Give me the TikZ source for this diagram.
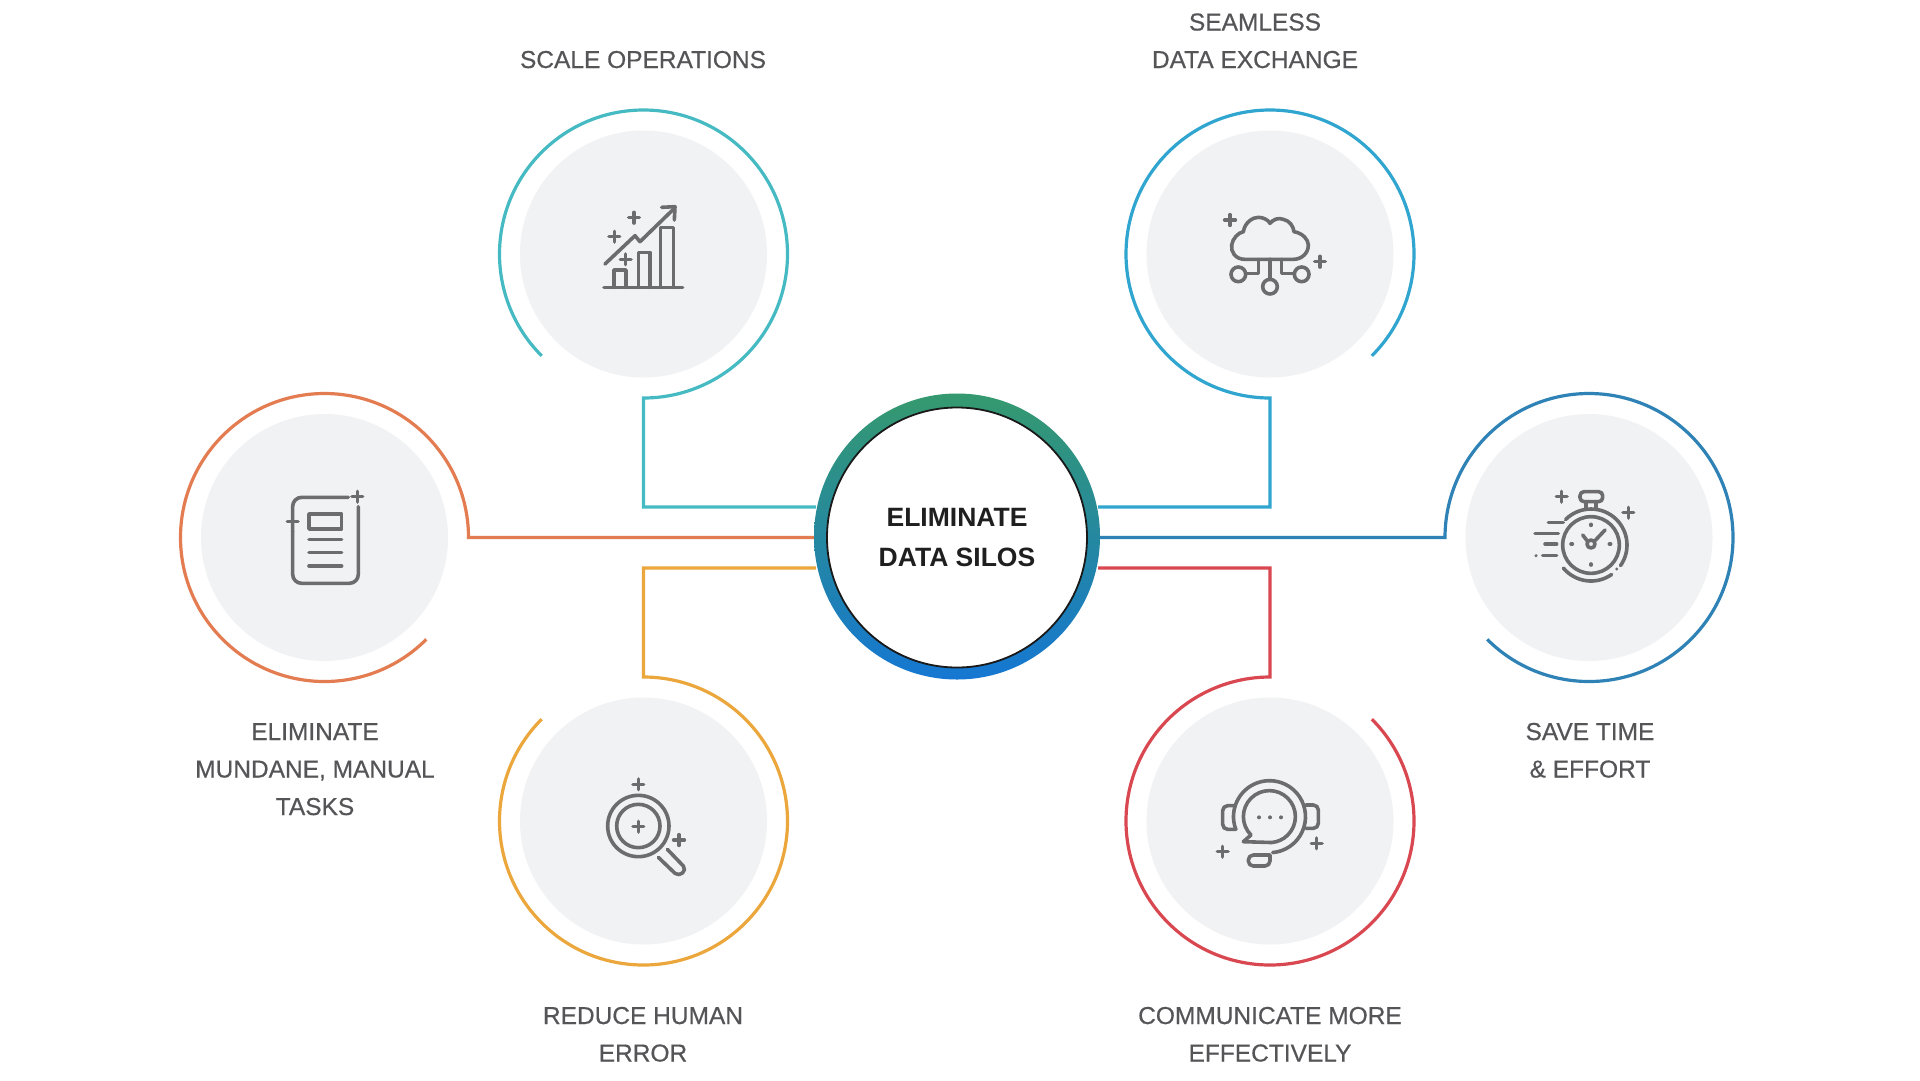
\documentclass[tikz,border=0pt]{standalone}
\usepackage{fontspec}
\setmainfont{Liberation Sans}
\usetikzlibrary{calc}
\definecolor{ctl}{HTML}{45BAC2}
\definecolor{ctr}{HTML}{2FA5CF}
\definecolor{cl}{HTML}{E47C52}
\definecolor{cr}{HTML}{2F82B6}
\definecolor{cbl}{HTML}{EBA63C}
\definecolor{cbr}{HTML}{D94850}
\definecolor{disc}{HTML}{F1F2F4}
\definecolor{ink}{HTML}{6C6C6E}
\definecolor{lab}{HTML}{555558}
\definecolor{HubTop}{HTML}{35996E}
\definecolor{HubBot}{HTML}{1577D2}
\newfontfamily\labfont[FakeBold=0.5]{Liberation Sans}
\tikzset{
  discnode/.style={circle,fill=disc,minimum size=247pt,inner sep=0pt},
  ringline/.style={line width=3.2pt,line join=miter},
  iconline/.style={color=ink,line width=3.6pt,line cap=round,line join=round},
  iconscope/.style={shift={(#1)},scale=1/3,iconline},
  labelnode/.style={align=center,text=lab,inner sep=0pt,anchor=base,font=\labfont\fontsize{24.5}{37.5}\selectfont},
}
\newcommand\plusat[1]{\draw (#1) +(-16,0) -- +(16,0) (#1) +(0,-16) -- +(0,16);}
\begin{document}
\begin{tikzpicture}[x=1pt,y=-1pt]
\useasboundingbox (0,0) rectangle (1920,1080);
\fill[white] (0,0) rectangle (1920,1080);

% hub position
\coordinate (hubc) at (957,536.5);
\node[circle,minimum size=286pt,inner sep=0pt] (hub) at (hubc) {};

% discs
\node[discnode] (tl) at (643.5,254) {};
\node[discnode] (tr) at (1270,254) {};
\node[discnode] (ml) at (324.5,537.5) {};
\node[discnode] (mr) at (1589,537.5) {};
\node[discnode] (bl) at (643.5,821) {};
\node[discnode] (br) at (1270,821) {};

% elbows
\coordinate (tlelbow) at (643.5,507);
\coordinate (trelbow) at (1270,507);
\coordinate (blelbow) at (643.5,568);
\coordinate (brelbow) at (1270,568);

% connectors
\coordinate (tlstart) at ($(tl)+(135:144)$);
\draw[ctl,ringline] (tlstart) arc[start angle=135,end angle=450,radius=144] -- (tlelbow) -- (tlelbow -| hub.170);
\coordinate (trstart) at ($(tr)+(45:144)$);
\draw[ctr,ringline] (trstart) arc[start angle=45,end angle=-270,radius=144] -- (trelbow) -- (trelbow -| hub.10);
\coordinate (mlstart) at ($(ml)+(45:144)$);
\draw[cl,ringline] (mlstart) arc[start angle=45,end angle=360,radius=144] -- (ml.east -| hub.west);
\coordinate (mrstart) at ($(mr)+(135:144)$);
\draw[cr,ringline] (mrstart) arc[start angle=135,end angle=-180,radius=144] -- (mr.west -| hub.east);
\coordinate (blstart) at ($(bl)+(-135:144)$);
\draw[cbl,ringline] (blstart) arc[start angle=-135,end angle=-450,radius=144] -- (blelbow) -- (blelbow -| hub.190);
\coordinate (brstart) at ($(br)+(-45:144)$);
\draw[cbr,ringline] (brstart) arc[start angle=-45,end angle=270,radius=144] -- (brelbow) -- (brelbow -| hub.-10);

% hub
\node[circle,minimum size=286pt,inner sep=0pt,top color=HubTop,bottom color=HubBot] (hubring) at (hubc) {};
\node[circle,minimum size=260pt,inner sep=0pt,fill=white,draw=black!90,line width=1.8pt,align=center,text=black!88,font=\bfseries\fontsize{26.5}{40}\selectfont,yshift=-1pt] (hubin) at (hubc) {ELIMINATE\\DATA SILOS};

% labels (the anchor is the baseline of the last line)
\node[labelnode] (l1) at (643,68) {SCALE OPERATIONS};
\node[labelnode] (l2) at (1255,68) {SEAMLESS\\DATA EXCHANGE};
\node[labelnode] (l3) at (315,815) {ELIMINATE\\MUNDANE, MANUAL\\TASKS};
\node[labelnode] (l4) at (1590,777.5) {SAVE TIME\\\& EFFORT};
\node[labelnode] (l5) at (643,1061.5) {REDUCE HUMAN\\ERROR};
\node[labelnode] (l6) at (1270,1061.5) {COMMUNICATE MORE\\EFFECTIVELY};

% chart icon
\begin{scope}[iconscope={480,90}]
\draw (372,592) -- (608,592);
\draw (402,592) -- (402,540) -- (438,540) -- (438,592);
\draw (475,592) -- (475,487) -- (510,487) -- (510,592);
\draw (542,592) -- (542,413) -- (580,413) -- (580,592);
\draw (375,522) -- (465,437) -- (480,455) -- (580,358);
\draw (545,352) -- (585,350) -- (583,390);
\plusat{462,383}
\plusat{403,440}
\plusat{437,508}
\end{scope}

% cloud icon
\begin{scope}[iconscope={1190,190}]
\draw (165,208) .. controls (135,208) and (122,185) .. (125,165)
 .. controls (128,145) and (145,128) .. (160,125)
 .. controls (165,95) and (190,82) .. (205,82)
 .. controls (220,82) and (235,90) .. (240,100)
 .. controls (250,88) and (265,82) .. (280,88)
 .. controls (300,92) and (310,110) .. (312,125)
 .. controls (340,130) and (355,150) .. (355,165)
 .. controls (355,190) and (335,208) .. (310,208) -- cycle;
\draw (240,208) -- (240,268);
\draw (240,290) circle[radius=22];
\draw (205,208) -- (205,250) -- (168,250);
\draw (145,253) circle[radius=22];
\draw (275,208) -- (275,250) -- (312,250);
\draw (335,253) circle[radius=22];
\plusat{120,90}
\plusat{390,215}
\end{scope}

% document icon
\begin{scope}[iconscope={260,470}]
\draw[rounded corners=9pt] (265,82) -- (98,82) -- (98,185);
\draw[rounded corners=9pt] (98,185) -- (98,340) -- (295,340) -- (295,110);
\draw (147,132) rectangle (245,177);
\draw (147,208) -- (245,208);
\draw (147,247) -- (245,247);
\draw (147,288) -- (245,288);
\plusat{292,80}
\plusat{98,155}
\end{scope}

% stopwatch icon
\begin{scope}[iconscope={1510,470}]
\draw ($(243,225)+(-135:108)$) arc[start angle=-135,end angle=35,radius=108];
\fill[ink] (320,297) circle[radius=5];
\draw ($(243,225)+(55:108)$) arc[start angle=55,end angle=140,radius=108];
\draw (243,225) circle[radius=85];
\draw (218,195) -- (232,213);
\draw (254,213) -- (285,180);
\draw (243,222) circle[radius=12];
\draw (243,163) -- (243,166);
\draw (243,282) -- (243,285);
\draw (183,222) -- (187,222);
\draw (298,222) -- (302,222);
\draw[rounded corners=4pt] (210,65) rectangle (278,95);
\draw (228,95) -- (228,118);
\draw (258,95) -- (258,118);
\plusat{155,80}
\plusat{355,128}
\draw (115,157) -- (160,157);
\draw (75,190) -- (145,190);
\draw (105,222) -- (140,222);
\draw (98,257) -- (140,257);
\fill[ink] (78,257) circle[radius=5];
\end{scope}

% magnifier icon
\begin{scope}[iconscope={580,760}]
\draw (175,198) circle[radius=92];
\draw (175,198) circle[radius=65];
\plusat{175,200}
\plusat{175,73}
\plusat{297,240}
\draw (262,268) -- (310,318) .. controls (322,332) and (300,352) .. (285,340) -- (235,292);
\end{scope}

% headset icon
\begin{scope}[iconscope={1200,760}]
\draw (130,245) -- (153,225) arc[start angle=135,end angle=445,radius=78] -- cycle;
\draw (107,207) arc[start angle=160,end angle=445,radius=108];
\draw[rounded corners=5pt] (105,137) -- (68,137) -- (68,208) -- (108,208);
\draw[rounded corners=5pt] (318,135) -- (355,135) -- (355,205) -- (318,205);
\draw[rounded corners=5pt] (210,285) -- (145,285) -- (145,318) -- (210,318) -- (210,285);
\fill[ink] (177,172) circle[radius=6];
\fill[ink] (210,172) circle[radius=6];
\fill[ink] (243,172) circle[radius=6];
\plusat{68,275}
\plusat{350,250}
\end{scope}
\end{tikzpicture}
\end{document}
